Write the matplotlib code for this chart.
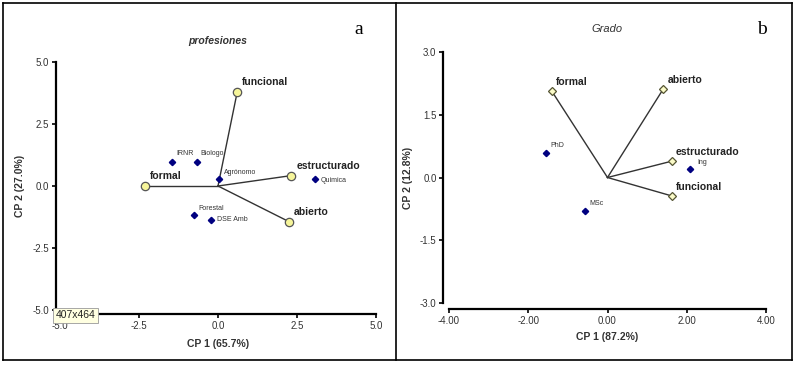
import matplotlib
matplotlib.use('Agg')
import matplotlib.pyplot as plt
from matplotlib.lines import Line2D

plt.rcParams['font.family'] = ['Liberation Sans', 'DejaVu Sans']

W, H = 796, 365

# panel a: profesiones
a_vars = ['formal', 'funcional', 'estructurado', 'abierto']
a_vx = [-2.30, 0.61, 2.32, 2.25]
a_vy = [0.00, 3.80, 0.42, -1.44]
a_obs = ['IRNR', 'Biologo', 'Agrónomo', 'Quimica', 'Forestal', 'DSE Amb']
a_ox = [-1.47, -0.67, 0.04, 3.07, -0.77, -0.23]
a_oy = [0.98, 0.98, 0.28, 0.28, -1.17, -1.37]
a_ticks = [-5.0, -2.5, 0.0, 2.5, 5.0]

# panel b: Grado
b_vars = ['formal', 'abierto', 'estructurado', 'funcional']
b_vx = [-1.41, 1.41, 1.62, 1.62]
b_vy = [2.07, 2.12, 0.39, -0.44]
b_obs = ['PhD', 'MSc', 'Ing']
b_ox = [-1.54, -0.56, 2.08]
b_oy = [0.59, -0.81, 0.21]
b_xticks = [-4.0, -2.0, 0.0, 2.0, 4.0]
b_yticks = [-3.0, -1.5, 0.0, 1.5, 3.0]

fig = plt.figure(figsize=(W / 100, H / 100), dpi=100)
fig.patch.set_facecolor('white')


def box(l, t, r, b):
    return [l / W, 1 - b / H, (r - l) / W, (b - t) / H]


def fline(x0, y0, x1, y1):
    fig.add_artist(Line2D([x0 / W, x1 / W], [1 - y0 / H, 1 - y1 / H],
                          transform=fig.transFigure, color='black', lw=1.2))


# outer frame
fline(3, 3, 792, 3)
fline(3, 360, 792, 360)
fline(3, 3, 3, 360)
fline(792, 3, 792, 360)
fline(396, 3, 396, 360)


def style(ax, off):
    for s in ['top', 'right']:
        ax.spines[s].set_visible(False)
    for s in ['left', 'bottom']:
        ax.spines[s].set_position(('outward', off))
        ax.spines[s].set_linewidth(1.6)
    ax.tick_params(direction='out', length=3, width=1.2, labelsize=7,
                   labelcolor='#333333', pad=2)
    ax.patch.set_alpha(0)


LBL = dict(fontsize=7.5, fontweight='bold', color='#333333')

# ---- panel a ----
ax = fig.add_axes(box(60, 62, 376, 310))
style(ax, 3)
ax.set_xlim(-5, 5)
ax.set_ylim(-5, 5)
ax.set_xticks(a_ticks)
ax.set_yticks(a_ticks)
ax.set_xticklabels(['%.1f' % t for t in a_ticks])
ax.set_yticklabels(['%.1f' % t for t in a_ticks])
for x, y, name in zip(a_vx, a_vy, a_vars):
    ax.plot([0, x], [0, y], color='#333333', lw=1)
    ax.plot(x, y, 'o', ms=6, mfc='#f6f59a', mec='#555555', mew=0.9)
    ax.annotate(name, (x, y), xytext=(5, 10), textcoords='offset pixels',
                ha='left', va='center', fontsize=7.5, fontweight='bold',
                color='#222222')
a_off = [(5, 8), (4, 8), (5, 7), (6, -1), (5, 7), (6, 0)]
for x, y, name, o in zip(a_ox, a_oy, a_obs, a_off):
    ax.plot(x, y, 'D', ms=3.2, color='#000080')
    ax.annotate(name, (x, y), xytext=o, textcoords='offset pixels',
                ha='left', va='center', fontsize=5, color='#333333')
ax.set_xlabel('CP 1 (65.7%)', labelpad=6, **LBL)
ax.set_ylabel('CP 2 (27.0%)', labelpad=5, **LBL)
fig.text(218 / W, 1 - 41 / H, 'profesiones', fontsize=7.5, fontweight='bold',
         fontstyle='italic', ha='center', va='center', color='#333333')
fig.text(359 / W, 1 - 30 / H, 'a', fontsize=14, family='Liberation Serif',
         ha='center', va='center')
fig.text(75.5 / W, 1 - 315.5 / H, '407x464', fontsize=7.5, ha='center', va='center',
         color='#222222',
         bbox=dict(boxstyle='square,pad=0.25', fc='#ffffe1', ec='#999999', lw=0.6))

# ---- panel b ----
bx = fig.add_axes(box(449, 52, 766, 303))
style(bx, 4)
bx.set_xlim(-4, 4)
bx.set_ylim(-3, 3)
bx.set_xticks(b_xticks)
bx.set_yticks(b_yticks)
bx.set_xticklabels(['%.2f' % t for t in b_xticks])
bx.set_yticklabels(['%.1f' % t for t in b_yticks])
for x, y, name in zip(b_vx, b_vy, b_vars):
    bx.plot([0, x], [0, y], color='#333333', lw=1)
    bx.plot(x, y, 'D', ms=4, mfc='#fbfbc8', mec='#555533', mew=0.9)
    bx.annotate(name, (x, y), xytext=(4, 9), textcoords='offset pixels',
                ha='left', va='center', fontsize=7.5, fontweight='bold',
                color='#222222')
b_off = [(4, 7), (4, 8), (7, 6)]
for x, y, name, o in zip(b_ox, b_oy, b_obs, b_off):
    bx.plot(x, y, 'D', ms=3.2, color='#000080')
    bx.annotate(name, (x, y), xytext=o, textcoords='offset pixels',
                ha='left', va='center', fontsize=5, color='#333333')
bx.set_xlabel('CP 1 (87.2%)', labelpad=5, **LBL)
bx.set_ylabel('CP 2 (12.8%)', labelpad=5, **LBL)
fig.text(607 / W, 1 - 29 / H, 'Grado', fontsize=8, fontstyle='italic',
         ha='center', va='center', color='#333333')
fig.text(762 / W, 1 - 30 / H, 'b', fontsize=14, family='Liberation Serif',
         ha='center', va='center')

fig.savefig('out.png', dpi=100)
